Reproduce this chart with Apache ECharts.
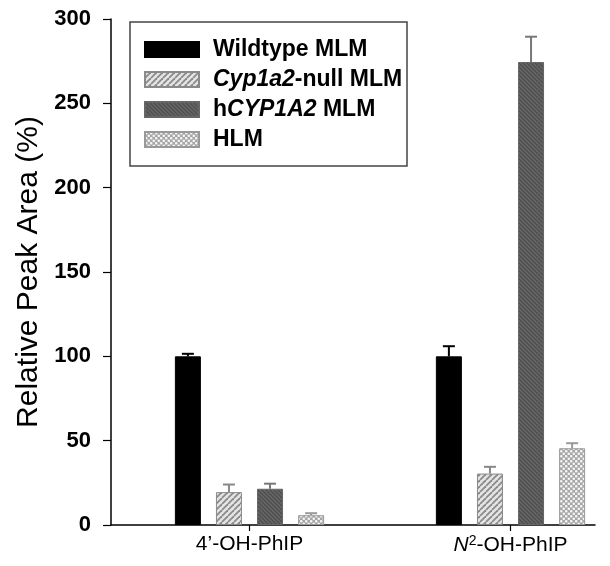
<!DOCTYPE html>
<html>
<head>
<meta charset="utf-8">
<script src="https://cdn.jsdelivr.net/npm/echarts@6/dist/echarts.min.js"></script>
<style>
html,body{margin:0;padding:0;background:#fff;}
#chart{width:610px;height:566px;}
</style>
</head>
<body>
<div id="chart"></div>
<script>
// ---- data ----
const categories = ["4\u2019-OH-PhIP", "N2-OH-PhIP"];
const seriesNames = ["Wildtype MLM", "Cyp1a2-null MLM", "hCYP1A2 MLM", "HLM"];
const wildtype = [100, 100];
const cyp1a2Null = [19.5, 30.5];
const hCYP1A2 = [21.5, 274.5];
const hlm = [5.8, 45.5];
const wildtypeErr = [1.5, 6];
const cyp1a2NullErr = [4.5, 4];
const hCYP1A2Err = [3, 15];
const hlmErr = [1.2, 3];
const yTicks = [0, 50, 100, 150, 200, 250, 300];

// ---- patterns ----
function makeTile(w, h, draw) {
  const c = document.createElement('canvas');
  c.width = w; c.height = h;
  draw(c.getContext('2d'), w, h);
  return { image: c, repeat: 'repeat' };
}
const stripeLight = makeTile(6, 6, (g, w, h) => {
  g.fillStyle = '#e4e4e4'; g.fillRect(0, 0, w, h);
  g.strokeStyle = '#8a8a8a'; g.lineWidth = 1.8;
  for (let k = -1; k <= 1; k++) {
    g.beginPath(); g.moveTo(k * w, h); g.lineTo(k * w + w, 0); g.stroke();
  }
});
const stripeDark = makeTile(4, 4, (g, w, h) => {
  g.fillStyle = '#646464'; g.fillRect(0, 0, w, h);
  g.strokeStyle = '#4c4c4c'; g.lineWidth = 1.1;
  for (let k = -1; k <= 1; k++) {
    g.beginPath(); g.moveTo(k * w, 0); g.lineTo(k * w + w, h); g.stroke();
  }
});
const dots = makeTile(5, 5, (g, w, h) => {
  g.fillStyle = '#a6a6a6'; g.fillRect(0, 0, w, h);
  g.fillStyle = '#f4f4f4';
  [[1.25, 1.25], [3.75, 3.75]].forEach(p => {
    g.beginPath(); g.arc(p[0], p[1], 1.3, 0, Math.PI * 2); g.fill();
  });
});

const BAR_W = 26, BAR_GAP = '58%';
const FONT = "'Liberation Sans', Arial, Helvetica, sans-serif";

function barSeries(name, data, color, border) {
  return {
    type: 'bar', name: name, data: data, xAxisIndex: 0, yAxisIndex: 0,
    barWidth: BAR_W, barGap: BAR_GAP,
    itemStyle: { color: color, borderColor: border, borderWidth: 1 },
    emphasis: { disabled: true }, z: 3
  };
}
function errSeries(idx, vals, errs, color) {
  return {
    type: 'custom', xAxisIndex: 0, yAxisIndex: 0, silent: true, z: 2,
    data: vals.map((v, i) => [i, v, v + errs[i]]),
    encode: { x: 0, y: [1, 2] },
    renderItem: function (params, api) {
      let off;
      try {
        const lay = api.barLayout({ barWidth: BAR_W, barGap: BAR_GAP, count: 4 });
        off = lay[idx].offsetCenter;
      } catch (e) { off = (idx - 1.5) * 41; }
      const top = api.coord([api.value(0), api.value(2)]);
      const base = api.coord([api.value(0), api.value(1)]);
      const x = top[0] + off, hw = 6;
      return {
        type: 'group', children: [
          { type: 'line', shape: { x1: x, y1: base[1], x2: x, y2: top[1] }, style: { stroke: color, lineWidth: 2 } },
          { type: 'line', shape: { x1: x - hw, y1: top[1], x2: x + hw, y2: top[1] }, style: { stroke: color, lineWidth: 2 } }
        ]
      };
    }
  };
}

const legendRich = {
  "Wildtype MLM": "{n|Wildtype MLM}",
  "Cyp1a2-null MLM": "{i|Cyp1a2}{n|-null MLM}",
  "hCYP1A2 MLM": "{n|h}{i|CYP1A2}{n| MLM}",
  "HLM": "{n|HLM}"
};

const chart = echarts.init(document.getElementById('chart'), null, { renderer: 'canvas' });
chart.setOption({
  animation: false,
  backgroundColor: '#fff',
  grid: [
    { left: 119, top: 19, width: 522, height: 506, outerBoundsMode: 'none', containLabel: false },
    { left: 111, top: 19, right: 15, height: 506, outerBoundsMode: 'none', containLabel: false }
  ],
  xAxis: [
    {
      type: 'category', gridIndex: 0, data: categories,
      axisLine: { show: false },
      axisTick: { show: true, alignWithLabel: true, length: 6, lineStyle: { color: '#000', width: 1.2 } },
      axisLabel: {
        margin: 9, color: '#000',
        formatter: v => v.indexOf('N2') === 0 ? '{i|N}{s|2}{n|' + v.slice(2) + '}' : '{n|' + v + '}',
        rich: {
          n: { fontFamily: FONT, fontSize: 21, color: '#000' },
          i: { fontFamily: FONT, fontSize: 21, fontStyle: 'italic', color: '#000' },
          s: { fontFamily: FONT, fontSize: 14, color: '#000', verticalAlign: 'bottom', padding: [0, 0, 8, 0] }
        }
      },
      splitLine: { show: false }
    },
    {
      type: 'value', gridIndex: 1, min: 0, max: 1,
      axisLine: { show: true, lineStyle: { color: '#000', width: 1.5 } },
      axisTick: { show: false }, axisLabel: { show: false }, splitLine: { show: false }
    }
  ],
  yAxis: [
    {
      type: 'value', gridIndex: 0, min: 0, max: 300, interval: 50,
      axisLine: { show: false }, axisTick: { show: false }, axisLabel: { show: false }, splitLine: { show: false }
    },
    {
      type: 'value', gridIndex: 1, min: 0, max: 300, interval: 50,
      name: 'Relative Peak Area (%)', nameLocation: 'middle', nameGap: 58,
      nameTextStyle: { fontFamily: FONT, fontSize: 30, color: '#000' },
      axisLine: { show: true, lineStyle: { color: '#000', width: 1.5 } },
      axisTick: { show: true, inside: false, length: 8, lineStyle: { color: '#000', width: 1.2 } },
      axisLabel: {
        margin: 20, color: '#000', fontFamily: FONT, fontSize: 22, fontWeight: 'bold',
        formatter: v => (yTicks.indexOf(v) >= 0 ? String(v) : '')
      },
      splitLine: { show: false }
    }
  ],
  legend: {
    data: seriesNames, orient: 'vertical', left: 144, top: 38, padding: 0,
    itemWidth: 54, itemHeight: 15, itemGap: 7, icon: 'rect',
    selectedMode: false,
    formatter: name => legendRich[name],
    textStyle: {
      padding: [0, 0, 0, 9],
      rich: {
        n: { fontFamily: FONT, fontSize: 23, fontWeight: 'bold', color: '#000' },
        i: { fontFamily: FONT, fontSize: 23, fontWeight: 'bold', fontStyle: 'italic', color: '#000' }
      }
    }
  },
  graphic: [
    { type: 'rect', shape: { x: 130, y: 22, width: 277, height: 144 }, style: { fill: 'none', stroke: '#444', lineWidth: 1.5 }, z: 0 }
  ],
  series: [
    barSeries(seriesNames[0], wildtype, '#000', '#000'),
    barSeries(seriesNames[1], cyp1a2Null, stripeLight, '#8a8a8a'),
    barSeries(seriesNames[2], hCYP1A2, stripeDark, '#666'),
    barSeries(seriesNames[3], hlm, dots, '#999'),
    errSeries(0, wildtype, wildtypeErr, '#000'),
    errSeries(1, cyp1a2Null, cyp1a2NullErr, '#888'),
    errSeries(2, hCYP1A2, hCYP1A2Err, '#777'),
    errSeries(3, hlm, hlmErr, '#999')
  ]
});
</script>
</body>
</html>
